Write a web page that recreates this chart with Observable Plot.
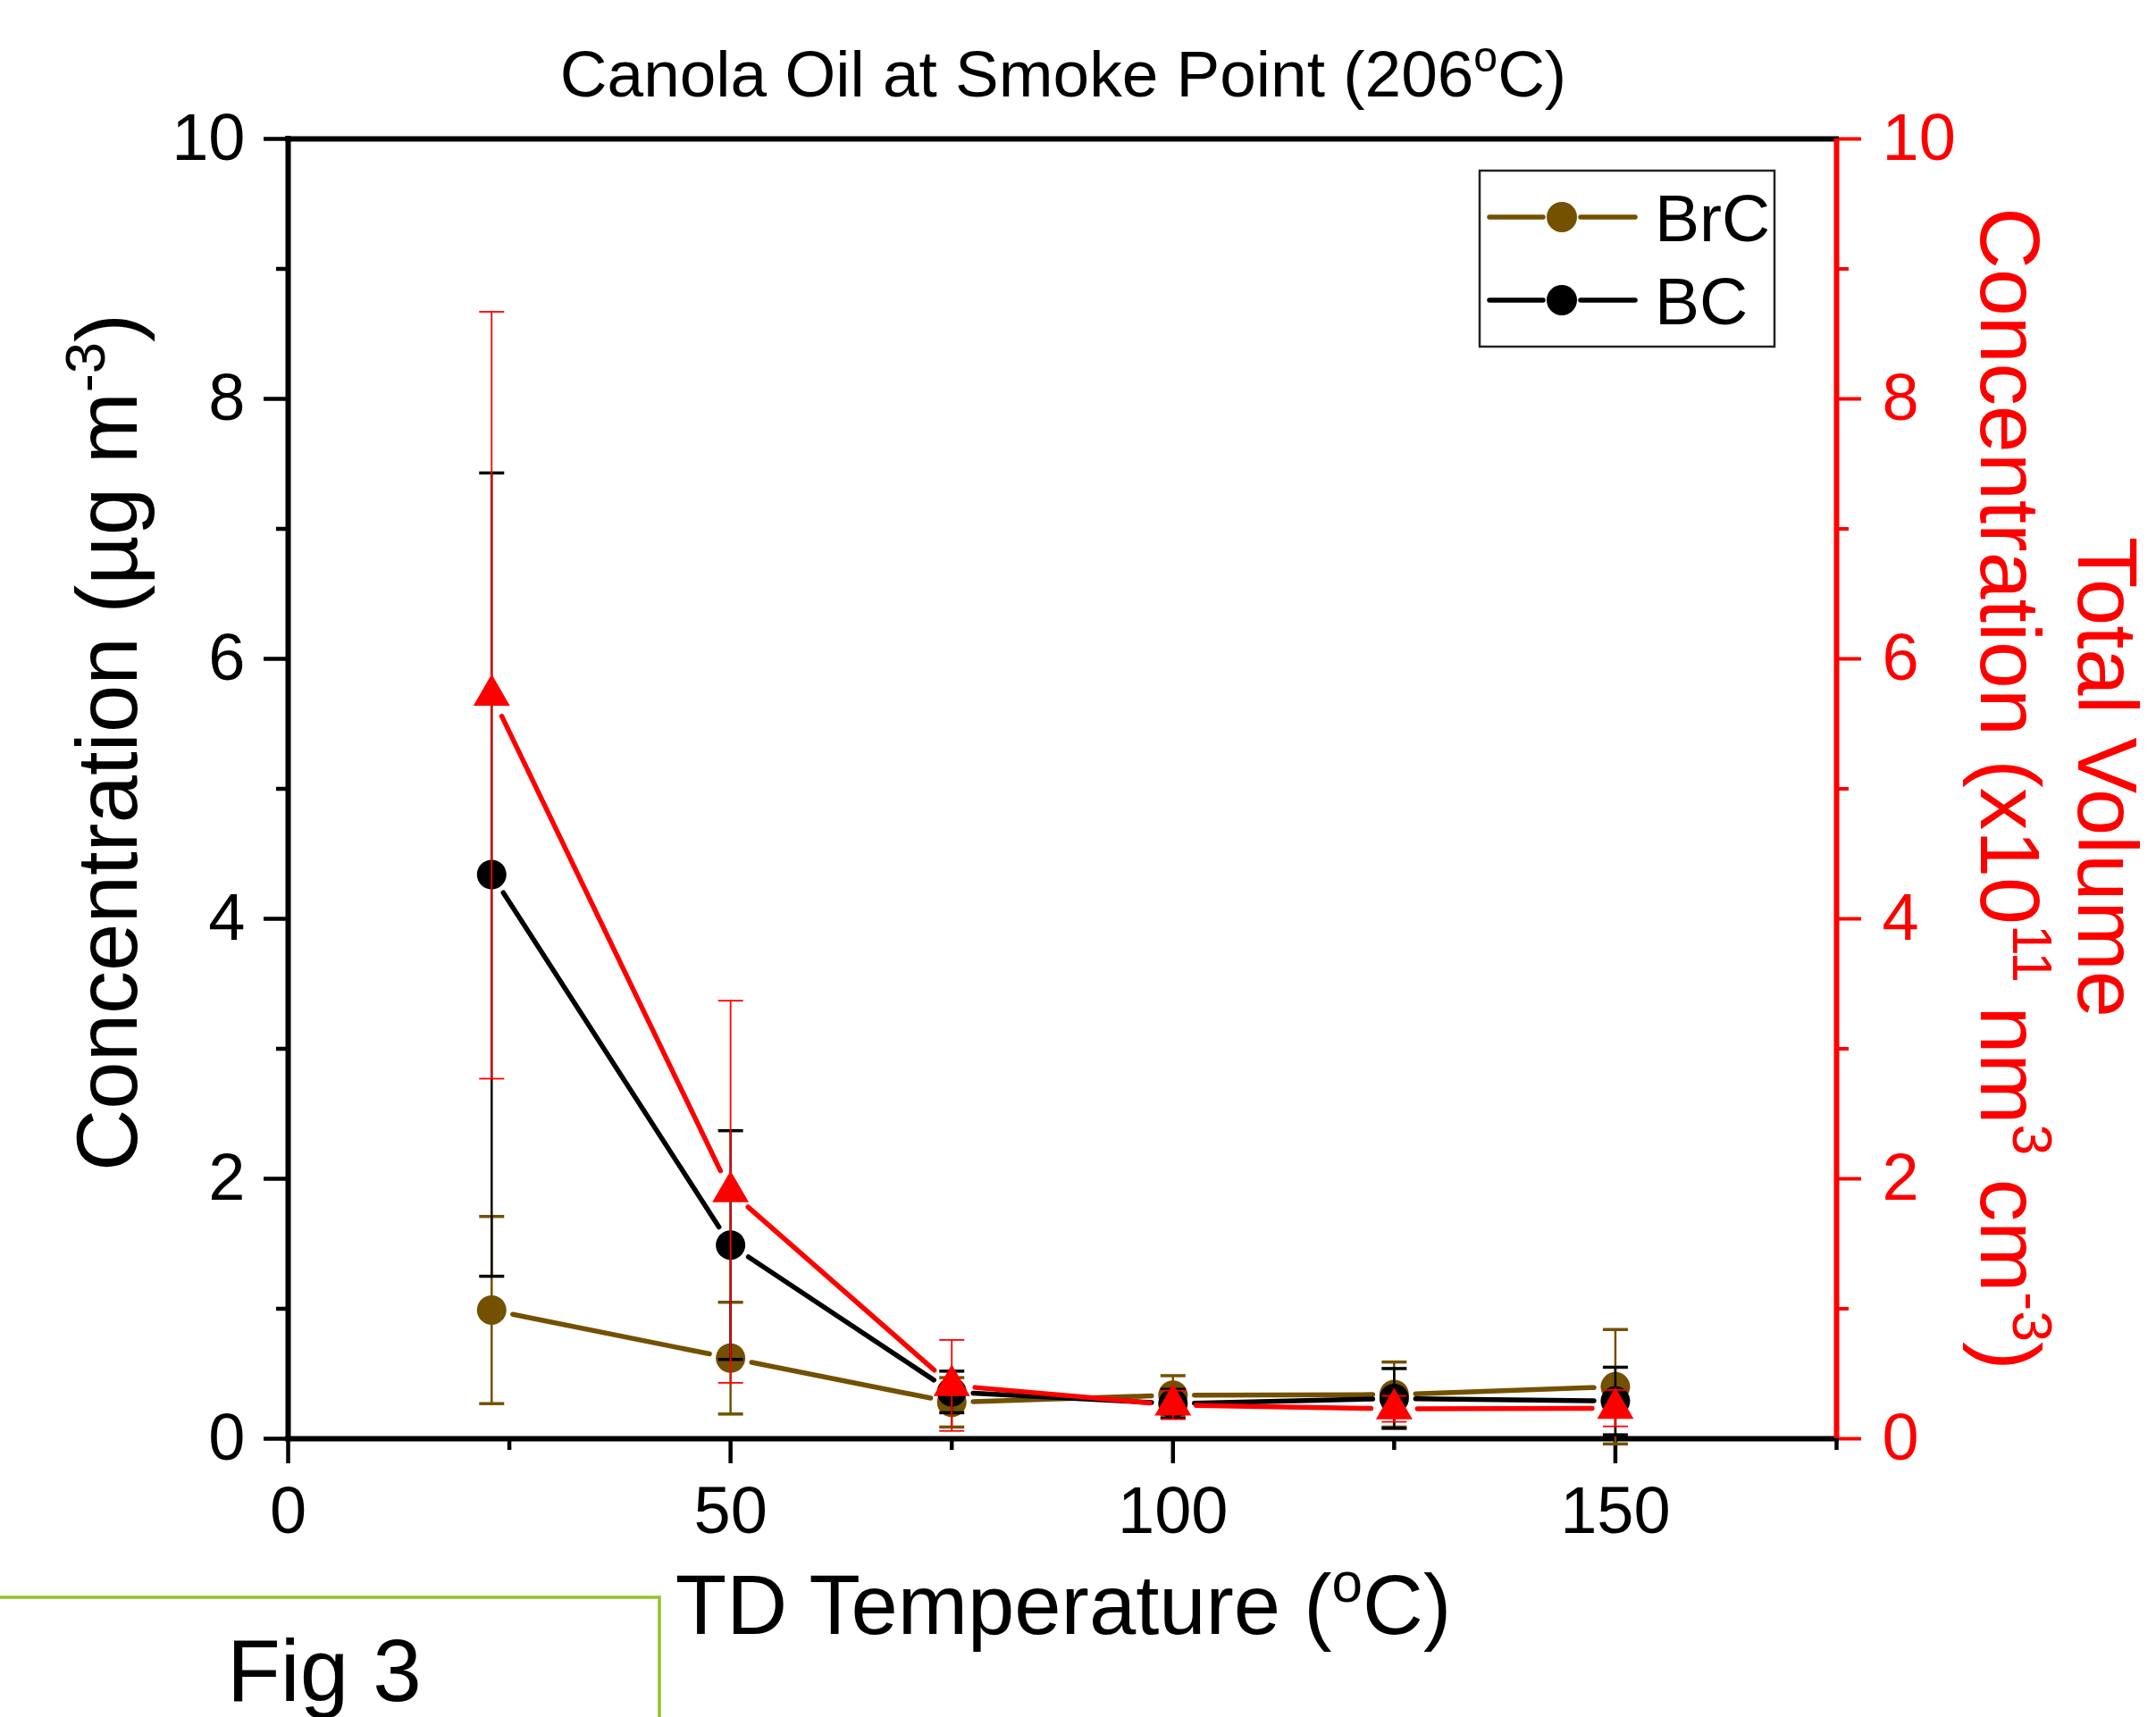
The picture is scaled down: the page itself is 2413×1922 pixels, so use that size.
<!DOCTYPE html>
<html><head><meta charset="utf-8">
<script src="https://cdn.jsdelivr.net/npm/d3@7"></script>
<script src="https://cdn.jsdelivr.net/npm/@observablehq/plot@0.6"></script>
<style>body{margin:0;background:#fff;overflow:hidden;}#chart svg{display:block;max-width:none !important;}</style>
</head><body><div id="chart"></div>
<script>
// ---- data ----
const temperatures = [23, 50, 75, 100, 125, 150];
const brcValues = [0.99, 0.62, 0.28, 0.335, 0.34, 0.40];
const brcErrors = [0.72, 0.43, 0.19, 0.15, 0.25, 0.44];
const bcValues = [4.34, 1.49, 0.36, 0.27, 0.31, 0.29];
const bcErrors = [3.09, 0.88, 0.16, 0.11, 0.23, 0.26];
const volumeValues = [5.72, 1.90, 0.41, 0.26, 0.23, 0.235];
const volumeErrors = [2.95, 1.47, 0.35, 0.11, 0.10, 0.14];
const xDomain = [0, 175];
const yDomain = [0, 10];
const xMajorTicks = [0, 50, 100, 150];
const xMinorTicks = [25, 75, 125, 175];
const yMajorTicks = [0, 2, 4, 6, 8, 10];
const yMinorTicks = [1, 3, 5, 7, 9];
const legendLabels = ["BrC", "BC"];

const BROWN = "#735100", BLACK = "#000000", RED = "#ff0000";
const FONT = "'Liberation Sans', Arial, Helvetica, sans-serif";

const rows = (vals, errs) => temperatures.map((t, i) => ({t, v: vals[i], e: errs[i]}));
const segs = (vals) => temperatures.slice(1).map((t, i) => ({x1: temperatures[i], y1: vals[i], x2: t, y2: vals[i + 1]}));

const capSymbol = {draw(ctx, size) { const w = Math.sqrt(size / Math.PI); ctx.moveTo(-w, 0); ctx.lineTo(w, 0); }};

function seriesMarks(vals, errs, color, opts) {
  const data = rows(vals, errs);
  return [
    Plot.arrow(segs(vals), {x1: "x1", y1: "y1", x2: "x2", y2: "y2", bend: 0, headLength: 0,
      inset: opts.gap, stroke: color, strokeWidth: 5.5, strokeLinecap: "round"}),
    Plot.ruleX(data, {x: "t", y1: d => d.v - d.e, y2: d => d.v + d.e, stroke: color, strokeWidth: opts.stem}),
    Plot.dot(data, {x: "t", y: d => d.v + d.e, symbol: capSymbol, r: 14, stroke: color, strokeWidth: opts.cap}),
    Plot.dot(data, {x: "t", y: d => d.v - d.e, symbol: capSymbol, r: 14, stroke: color, strokeWidth: opts.cap}),
    Plot.dot(data, {x: "t", y: "v", symbol: opts.symbol, r: opts.r, fill: color, stroke: "none"})
  ];
}

const plot = Plot.plot({
  width: 2413, height: 1922,
  marginLeft: 322, marginRight: 358, marginTop: 155, marginBottom: 312,
  style: {fontFamily: FONT, background: "white", color: "black", overflow: "visible"},
  x: {domain: xDomain},
  y: {domain: yDomain},
  marks: [
    Plot.axisX({ticks: xMajorTicks, tickSize: 28, tickPadding: 25, fontSize: 74, strokeWidth: 4.5, label: null, tickFormat: d => String(d)}),
    Plot.axisX({ticks: xMinorTicks, tickSize: 13, strokeWidth: 4.5, label: null, tickFormat: () => ""}),
    Plot.axisY({ticks: yMajorTicks, tickSize: 27, tickPadding: 21, fontSize: 74, strokeWidth: 4.5, label: null, tickFormat: d => String(d)}),
    Plot.axisY({ticks: yMinorTicks, tickSize: 13, strokeWidth: 4.5, label: null, tickFormat: () => ""}),
    Plot.axisY({anchor: "right", ticks: yMajorTicks, tickSize: 27, tickPadding: 24, fontSize: 74, strokeWidth: 4, color: RED, label: null, tickFormat: d => String(d)}),
    Plot.axisY({anchor: "right", ticks: yMinorTicks, tickSize: 13, strokeWidth: 4, color: RED, label: null, tickFormat: () => ""}),
    Plot.ruleY([yDomain[1]], {stroke: BLACK, strokeWidth: 6, strokeLinecap: "square"}),
    Plot.ruleY([yDomain[0]], {stroke: BLACK, strokeWidth: 6, strokeLinecap: "square"}),
    Plot.ruleX([xDomain[0]], {stroke: BLACK, strokeWidth: 6, strokeLinecap: "square"}),
    Plot.ruleX([xDomain[1]], {stroke: RED, strokeWidth: 6}),
    ...seriesMarks(brcValues, brcErrors, BROWN, {symbol: "circle", r: 16.5, gap: 24, stem: 2.5, cap: 3.5}),
    ...seriesMarks(bcValues, bcErrors, BLACK, {symbol: "circle", r: 16.5, gap: 24, stem: 2.5, cap: 3.5}),
    ...seriesMarks(volumeValues, volumeErrors, RED, {symbol: "triangle", r: 15.2, gap: 26, stem: 1.8, cap: 1.8})
  ]
});

document.getElementById("chart").appendChild(plot);
const svg = d3.select(plot);

function richText(parent, {x, y, rotate = 0, anchor = "middle", size, fill = "black", parts}) {
  const t = parent.append("text")
    .attr("transform", `translate(${x},${y}) rotate(${rotate})`)
    .attr("text-anchor", anchor).attr("font-size", size).attr("fill", fill)
    .attr("font-family", FONT);
  let raised = false;
  for (const p of parts) {
    const s = t.append("tspan").text(p.text);
    if (p.sup) { s.attr("font-size", size * 0.66).attr("dy", -0.38 * size); raised = true; }
    else if (raised) { s.attr("dy", 0.38 * size); raised = false; }
  }
  return t;
}

const g = svg.append("g");
// title
richText(g, {x: 1190, y: 108, size: 73, parts: [{text: "Canola Oil at Smoke Point (206"}, {text: "o", sup: true}, {text: "C)"}]});
// x label
richText(g, {x: 1190, y: 1829, size: 94, parts: [{text: "TD Temperature ("}, {text: "o", sup: true}, {text: "C)"}]});
// left y label
richText(g, {x: 153, y: 831, rotate: -90, size: 96, parts: [{text: "Concentration (µg m"}, {text: "-3", sup: true}, {text: ")"}]});
// right y label (two lines)
richText(g, {x: 2326, y: 870, rotate: 90, size: 94, fill: RED, parts: [{text: "Total Volume"}]});
richText(g, {x: 2217, y: 883, rotate: 90, size: 95, fill: RED, parts: [
  {text: "Concentration (x10"}, {text: "11", sup: true}, {text: " nm"}, {text: "3", sup: true},
  {text: " cm"}, {text: "-3", sup: true}, {text: ")"}]});

// legend
const legendColors = [BROWN, BLACK];
const lg = svg.append("g").attr("text-anchor", "start");
lg.append("rect").attr("x", 1656).attr("y", 191).attr("width", 330).attr("height", 197)
  .attr("fill", "white").attr("stroke", "#222").attr("stroke-width", 2.5);
legendLabels.forEach((name, i) => {
  const y = 243 + i * 93;
  lg.append("line").attr("x1", 1667).attr("x2", 1727).attr("y1", y).attr("y2", y)
    .attr("stroke", legendColors[i]).attr("stroke-width", 5.5).attr("stroke-linecap", "round");
  lg.append("line").attr("x1", 1769).attr("x2", 1830).attr("y1", y).attr("y2", y)
    .attr("stroke", legendColors[i]).attr("stroke-width", 5.5).attr("stroke-linecap", "round");
  lg.append("circle").attr("cx", 1748).attr("cy", y).attr("r", 17).attr("fill", legendColors[i]);
  lg.append("text").attr("x", 1852).attr("y", y + 27).attr("font-size", 75)
    .attr("text-anchor", "start").attr("font-family", FONT).attr("fill", "black").text(name);
});

// "Fig 3" overlay box
svg.append("path").attr("d", "M0,1788H738V1922").attr("fill", "none")
  .attr("stroke", "#93C22B").attr("stroke-width", 3.5);
svg.append("text").attr("x", 254).attr("y", 1904).attr("font-size", 98)
  .attr("text-anchor", "start").attr("font-family", FONT).attr("fill", "black").text("Fig 3");
</script>
</body></html>
